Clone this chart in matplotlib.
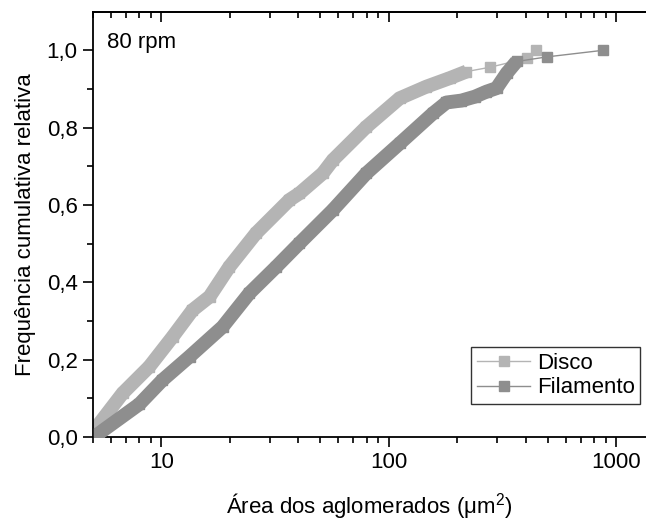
import matplotlib
matplotlib.use("Agg")
import matplotlib.pyplot as plt
from matplotlib.ticker import FixedLocator, LogLocator, NullFormatter, MultipleLocator

plt.rcParams['font.family'] = ['Liberation Sans', 'DejaVu Sans']
plt.rcParams['mathtext.fontset'] = 'custom'
plt.rcParams['mathtext.rm'] = 'Liberation Sans'

# Cumulative relative frequency of agglomerate areas (µm²)
disco_area = [5.07, 6.75, 8.85, 11.2, 13.7, 16.3, 19.9, 26.1, 36.6, 40.5, 51.3, 56.8,
              79.8, 111.8, 146.6, 185.7, 219.9, 278.6, 404.4, 444.4]
disco_freq = [0.018, 0.113, 0.182, 0.259, 0.328, 0.363, 0.440, 0.527, 0.613, 0.630, 0.682, 0.716,
              0.802, 0.876, 0.906, 0.928, 0.945, 0.956, 0.979, 1.000]

filamento_area = [5.33, 8.0, 10.1, 13.3, 18.6, 24.4, 32.0, 40.5, 56.8, 79.8, 111.8, 156.7,
                  179.6, 209.0, 239.3, 269.4, 298.2, 330.0, 365.2, 498.0, 879.0]
filamento_freq = [0.010, 0.085, 0.147, 0.208, 0.285, 0.372, 0.440, 0.501, 0.587, 0.682, 0.759, 0.837,
                  0.865, 0.870, 0.880, 0.893, 0.902, 0.940, 0.971, 0.983, 1.000]

# number of leading points that are densely packed (drawn as a solid band)
disco_dense = 17
filamento_dense = 19

x_ticks = [10, 100, 1000]
x_tick_labels = ['10', '100', '1000']
y_ticks = [0.0, 0.2, 0.4, 0.6, 0.8, 1.0]
y_tick_labels = ['0,0', '0,2', '0,4', '0,6', '0,8', '1,0']

c_disco = '#b4b4b4'
c_fil = '#8e8e8e'

fig = plt.figure(figsize=(6.46, 5.25), dpi=100)
ax = fig.add_axes([93 / 646, 88 / 525, 553 / 646, 425 / 525])

ms = 7.2
band = 10.0
ax.plot(disco_area[:disco_dense], disco_freq[:disco_dense], color=c_disco, lw=band,
        solid_joinstyle='round', solid_capstyle='butt', zorder=2)
ax.plot(filamento_area[:filamento_dense], filamento_freq[:filamento_dense], color=c_fil, lw=band,
        solid_joinstyle='round', solid_capstyle='butt', zorder=3)
h1, = ax.plot(disco_area, disco_freq, color=c_disco, lw=1, marker='s', ms=ms,
              mec=c_disco, mfc=c_disco, label='Disco', zorder=2)
h2, = ax.plot(filamento_area, filamento_freq, color=c_fil, lw=1, marker='s', ms=ms,
              mec=c_fil, mfc=c_fil, label='Filamento', zorder=3)

ax.set_xscale('log')
ax.set_xlim(5, 1356)
ax.set_ylim(0, 1.099)

ax.xaxis.set_major_locator(FixedLocator(x_ticks))
ax.set_xticklabels(x_tick_labels)
ax.xaxis.set_minor_locator(LogLocator(base=10, subs=range(2, 10)))
ax.xaxis.set_minor_formatter(NullFormatter())
ax.set_yticks(y_ticks)
ax.set_yticklabels(y_tick_labels)
ax.yaxis.set_minor_locator(MultipleLocator(0.1))

ax.tick_params(axis='both', which='major', direction='out', length=7, width=1.2,
               labelsize=16, pad=4)
ax.tick_params(axis='both', which='minor', direction='out', length=4, width=1.2)
ax.tick_params(axis='y', right=False, which='both')

for side in ['left', 'bottom', 'top']:
    ax.spines[side].set_linewidth(1.3)
ax.spines['right'].set_visible(False)

# top axis with inward ticks
top = ax.twiny()
top.set_xscale('log')
top.set_xlim(ax.get_xlim())
top.xaxis.set_major_locator(FixedLocator(x_ticks))
top.xaxis.set_minor_locator(LogLocator(base=10, subs=range(2, 10)))
top.xaxis.set_major_formatter(NullFormatter())
top.xaxis.set_minor_formatter(NullFormatter())
top.tick_params(axis='x', which='major', direction='in', length=7, width=1.2)
top.tick_params(axis='x', which='minor', direction='in', length=4, width=1.2)
for side in ['left', 'bottom', 'right']:
    top.spines[side].set_visible(False)
top.spines['top'].set_linewidth(1.3)

ax.set_xlabel('Área dos aglomerados (μm$^{2}$)', fontsize=16, labelpad=13)
ax.set_ylabel('Frequência cumulativa relativa', fontsize=16, labelpad=8)

ax.text(0.025, 0.929, '80 rpm', transform=ax.transAxes, fontsize=16, va='center', ha='left')

leg = ax.legend(handles=[h1, h2], loc='lower right', bbox_to_anchor=(0.99, 0.078),
                fontsize=16, numpoints=1, handlelength=2.4, handletextpad=0.3,
                borderpad=0.25, labelspacing=0.15, frameon=True, fancybox=False,
                borderaxespad=0)
leg.get_frame().set_edgecolor('black')
leg.get_frame().set_linewidth(1.0)

fig.savefig('out.png', dpi=100)
